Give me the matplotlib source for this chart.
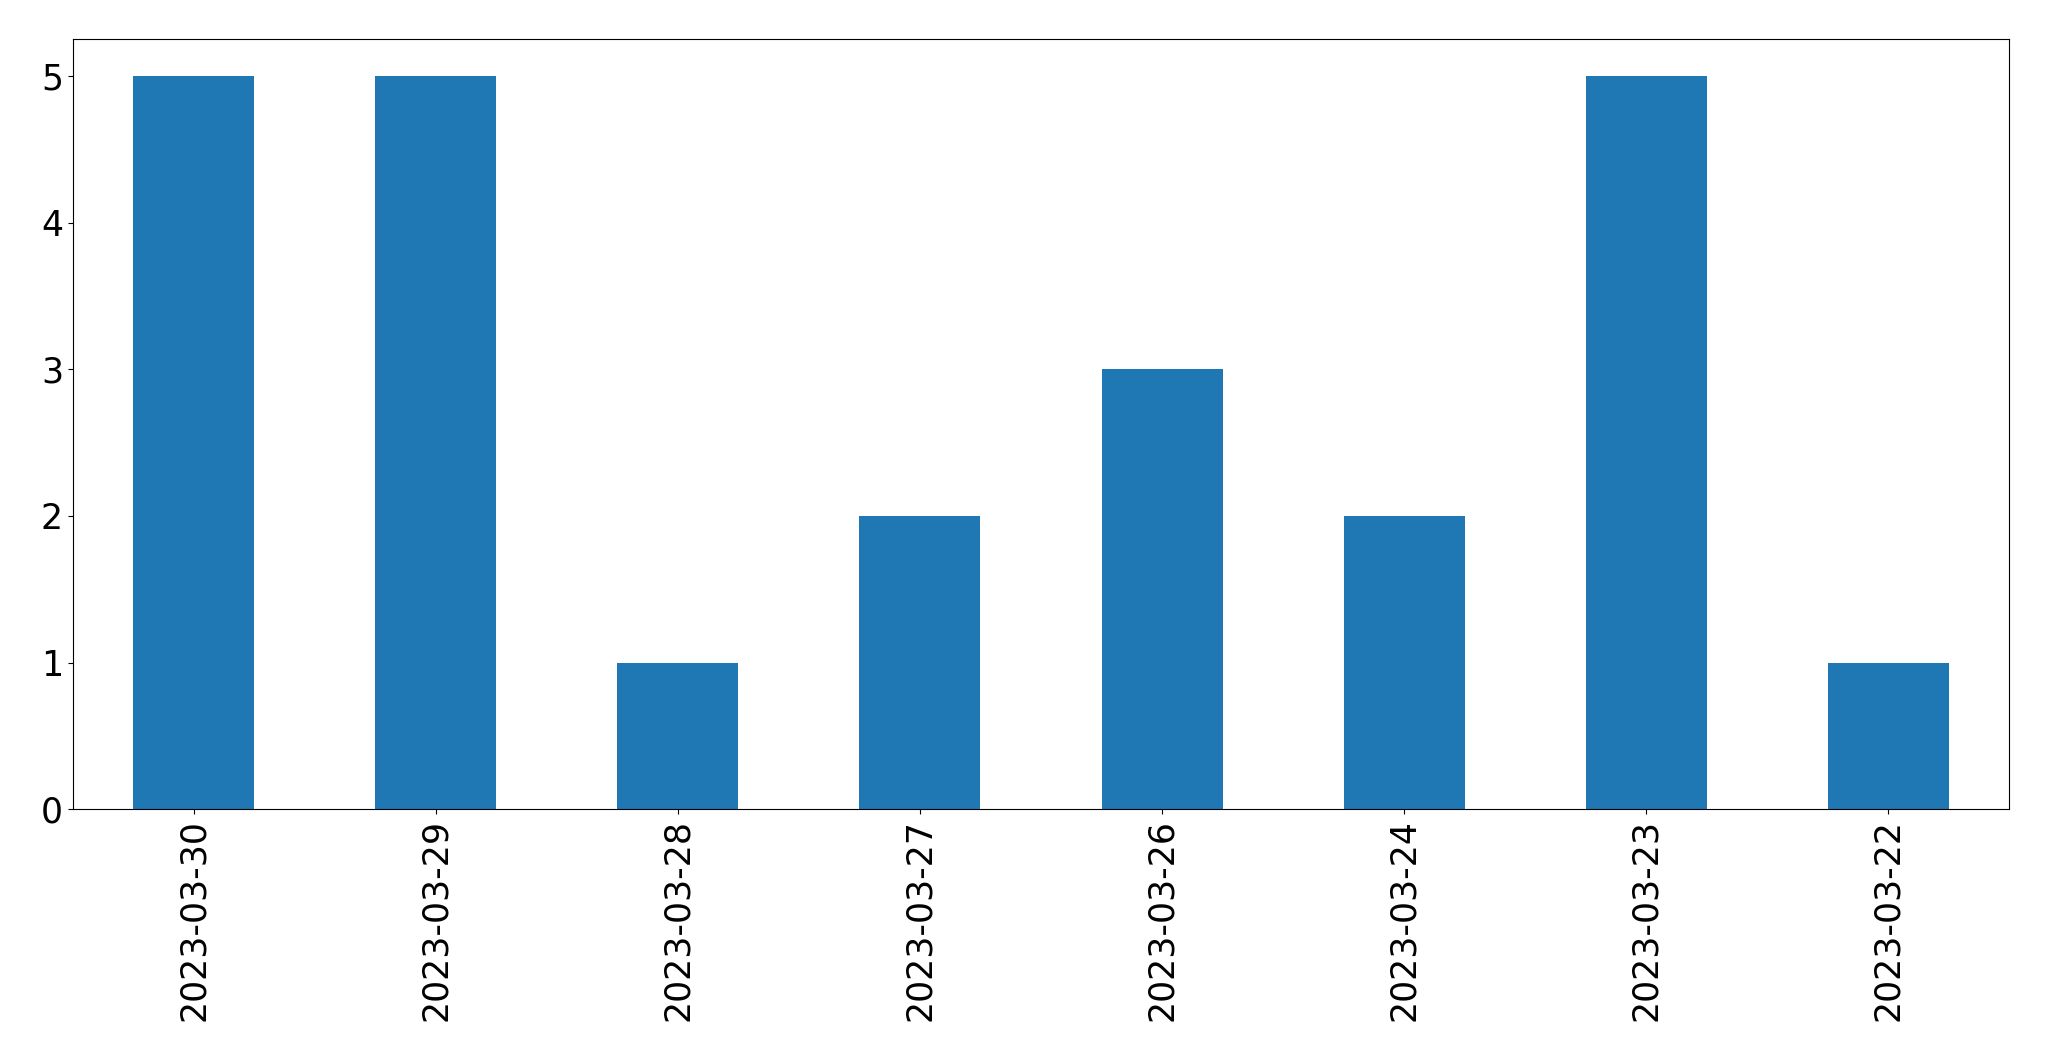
import matplotlib
matplotlib.use("Agg")
import matplotlib.pyplot as plt
import pandas as pd

# counts per day
dates = ["2023-03-30", "2023-03-29", "2023-03-28", "2023-03-27",
         "2023-03-26", "2023-03-24", "2023-03-23", "2023-03-22"]
counts = [5, 5, 1, 2, 3, 2, 5, 1]

series = pd.Series(counts, index=dates)

fig, ax = plt.subplots(figsize=(20.49, 10.61), dpi=100)
series.plot(kind="bar", ax=ax, color="#1f77b4", fontsize=25)

plt.subplots_adjust(left=0.0355, right=0.9806, top=0.963, bottom=0.2372)
plt.savefig("out.png", dpi=100)
